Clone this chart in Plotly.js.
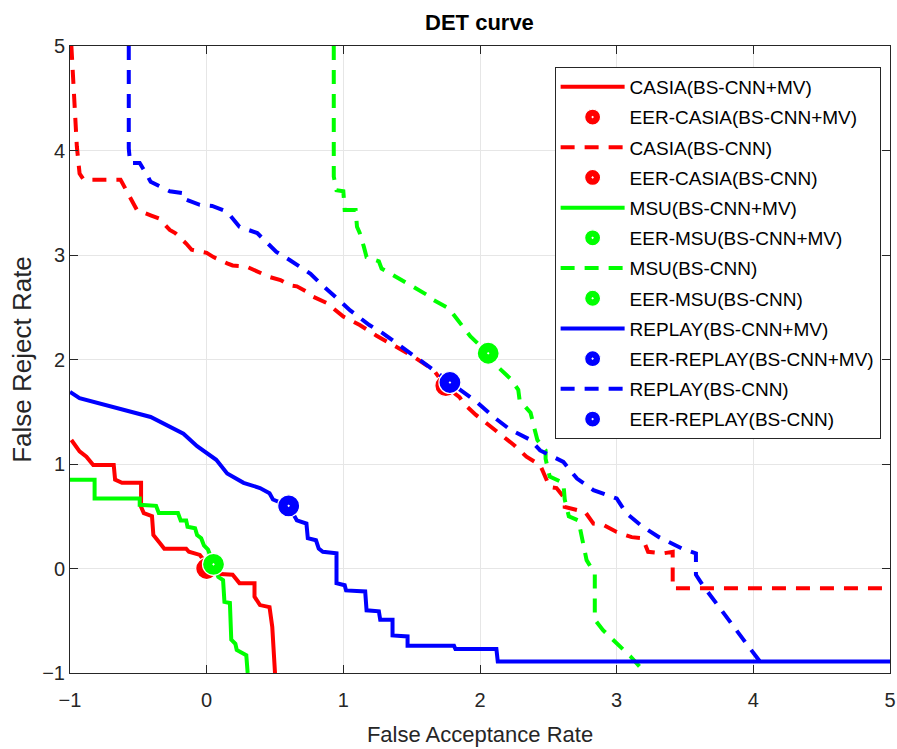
<!DOCTYPE html>
<html>
<head>
<meta charset="utf-8">
<script src="https://cdn.plot.ly/plotly-3.0.1.min.js"></script>
<style>
  html, body { margin: 0; padding: 0; background: #ffffff; }
  #chart { width: 897px; height: 749px; }
</style>
</head>
<body>
<div id="chart"></div>
<script>
// ---- Data ----
const casiaMV_x = [-0.99,-0.96,-0.93,-0.88,-0.83,-0.68,-0.67,-0.62,-0.48,-0.48,-0.46,-0.40,-0.39,-0.34,-0.31,-0.15,-0.13,-0.05,-0.02,0.0,0.07,0.19,0.24,0.35,0.35,0.39,0.46,0.48,0.49,0.50];
const casiaMV_y = [1.23,1.18,1.12,1.07,0.99,0.99,0.85,0.82,0.82,0.59,0.53,0.50,0.32,0.24,0.19,0.19,0.16,0.13,0.08,-0.01,-0.05,-0.06,-0.14,-0.14,-0.27,-0.35,-0.37,-0.56,-0.78,-1.0];

const casia_x = [-0.99,-0.95,-0.93,-0.90,-0.63,-0.61,-0.51,-0.41,-0.35,-0.27,-0.23,-0.15,-0.11,0.0,0.05,0.15,0.19,0.29,0.34,0.46,0.54,0.61,0.66,0.73,0.78,0.88,1.0,1.12,1.24,1.36,1.51,1.66,1.75,1.85,1.88,1.97,2.02,2.15,2.25,2.34,2.44,2.46,2.51,2.56,2.62,2.62,2.71,2.77,2.83,2.90,3.0,3.11,3.19,3.23,3.34,3.41,3.41,5.0];
const casia_y = [5.0,4.04,3.78,3.72,3.72,3.67,3.43,3.38,3.35,3.24,3.21,3.11,3.05,3.02,2.98,2.92,2.90,2.89,2.86,2.79,2.76,2.71,2.70,2.65,2.60,2.54,2.41,2.33,2.23,2.14,2.03,1.90,1.74,1.64,1.58,1.47,1.42,1.29,1.18,1.07,0.99,0.93,0.78,0.77,0.67,0.59,0.56,0.54,0.43,0.42,0.35,0.30,0.29,0.16,0.145,0.16,-0.19,-0.19];

const msuMV_x = [-1.0,-0.82,-0.82,-0.49,-0.49,-0.37,-0.35,-0.21,-0.19,-0.15,-0.14,-0.085,-0.07,-0.04,-0.02,0.01,0.05,0.085,0.12,0.13,0.17,0.18,0.21,0.22,0.29,0.30];
const msuMV_y = [0.85,0.85,0.67,0.67,0.61,0.60,0.53,0.53,0.46,0.46,0.40,0.385,0.32,0.29,0.22,0.18,0.04,-0.08,-0.11,-0.32,-0.33,-0.68,-0.72,-0.78,-0.83,-1.0];

const msu_x = [0.93,0.93,0.95,1.0,1.01,1.09,1.10,1.12,1.15,1.17,1.26,1.28,1.36,1.46,1.51,1.61,1.63,1.73,1.77,1.83,1.88,1.93,2.06,2.13,2.22,2.28,2.29,2.37,2.40,2.42,2.48,2.48,2.51,2.61,2.62,2.65,2.72,2.78,2.84,2.84,2.90,3.0,3.10,3.21];
const msu_y = [5.0,3.75,3.62,3.61,3.43,3.43,3.27,3.21,3.08,2.98,2.94,2.87,2.81,2.73,2.70,2.62,2.59,2.52,2.49,2.39,2.31,2.22,2.06,1.93,1.82,1.71,1.61,1.49,1.33,1.23,1.13,1.05,0.88,0.82,0.66,0.50,0.46,0.08,-0.05,-0.49,-0.59,-0.72,-0.84,-1.0];

const replayMV_x = [-1.0,-0.93,-0.41,-0.17,-0.07,0.07,0.15,0.27,0.39,0.46,0.485,0.60,0.66,0.73,0.74,0.80,0.82,0.85,0.95,0.95,1.01,1.02,1.16,1.17,1.26,1.27,1.36,1.36,1.47,1.47,1.81,1.82,2.12,2.13,5.0];
const replayMV_y = [1.69,1.63,1.45,1.29,1.17,1.04,0.91,0.82,0.77,0.72,0.66,0.60,0.46,0.43,0.29,0.27,0.19,0.16,0.145,-0.14,-0.16,-0.21,-0.22,-0.40,-0.41,-0.49,-0.49,-0.64,-0.65,-0.74,-0.74,-0.77,-0.77,-0.89,-0.89];

const replay_x = [-0.57,-0.57,-0.56,-0.49,-0.43,-0.41,-0.27,-0.16,-0.15,-0.05,0.04,0.12,0.17,0.24,0.37,0.41,0.48,0.51,0.61,0.71,0.76,0.83,0.87,0.95,1.05,1.19,1.29,1.41,1.54,1.66,1.77,1.85,1.97,2.10,2.22,2.37,2.44,2.61,2.71,2.83,3.0,3.07,3.19,3.31,3.48,3.58,3.58,3.63,3.78,3.95,4.06];
const replay_y = [5.0,4.02,3.88,3.88,3.75,3.70,3.61,3.59,3.53,3.48,3.47,3.43,3.38,3.27,3.21,3.16,3.06,3.03,2.95,2.87,2.82,2.73,2.68,2.59,2.47,2.33,2.25,2.14,2.01,1.90,1.79,1.71,1.60,1.45,1.33,1.23,1.13,1.02,0.86,0.75,0.67,0.53,0.40,0.30,0.19,0.145,-0.06,-0.16,-0.43,-0.72,-0.91];

// Equal error rate points
const eer_names = ["EER-CASIA(BS-CNN+MV)","EER-CASIA(BS-CNN)","EER-MSU(BS-CNN+MV)","EER-MSU(BS-CNN)","EER-REPLAY(BS-CNN+MV)","EER-REPLAY(BS-CNN)"];
const eer_x = [0.0, 1.75, 0.05, 2.06, 0.60, 1.78];
const eer_y = [0.0, 1.75, 0.04, 2.06, 0.60, 1.78];

const curve_names = ["CASIA(BS-CNN+MV)","CASIA(BS-CNN)","MSU(BS-CNN+MV)","MSU(BS-CNN)","REPLAY(BS-CNN+MV)","REPLAY(BS-CNN)"];

// ---- Styles ----
const RED = "#ff0000", GREEN = "#00ff00", BLUE = "#0000ff";
const DASH = "14px,10px";
function curve(x, y, name, color, dashed, g) {
  return {x: x, y: y, name: name, type: "scatter", mode: "lines",
          legendgroup: g,
          line: {color: color, width: 4, dash: dashed ? DASH : "solid", shape: "linear"}};
}
function eer(i, color, g) {
  return {x: [eer_x[i]], y: [eer_y[i]], name: eer_names[i], type: "scatter", mode: "markers",
          legendgroup: g,
          marker: {symbol: "circle-dot", size: 22, color: color, line: {color: "#ffffff", width: 1.2}}};
}

const data = [
  curve(casiaMV_x, casiaMV_y, curve_names[0], RED, false, "g01"),
  eer(0, RED, "g02"),
  curve(casia_x, casia_y, curve_names[1], RED, true, "g03"),
  eer(1, RED, "g04"),
  curve(msuMV_x, msuMV_y, curve_names[2], GREEN, false, "g05"),
  eer(2, GREEN, "g06"),
  curve(msu_x, msu_y, curve_names[3], GREEN, true, "g07"),
  eer(3, GREEN, "g08"),
  curve(replayMV_x, replayMV_y, curve_names[4], BLUE, false, "g09"),
  eer(4, BLUE, "g10"),
  curve(replay_x, replay_y, curve_names[5], BLUE, true, "g11"),
  eer(5, BLUE, "g12")
];

const FONT = "Liberation Sans, Arial, Helvetica, sans-serif";
const axisCommon = {
  range: [-1, 5], dtick: 1, tick0: -1, autorange: false,
  showgrid: true, gridcolor: "#e6e6e6", gridwidth: 1,
  zeroline: false,
  showline: true, linecolor: "#262626", linewidth: 1, mirror: "ticks",
  ticks: "inside", ticklen: 8, tickwidth: 1, tickcolor: "#262626",
  tickfont: {family: FONT, size: 20, color: "#262626"}
};

const layout = {
  width: 897, height: 749,
  margin: {l: 70, r: 7, t: 46, b: 76, pad: 0},
  paper_bgcolor: "#ffffff", plot_bgcolor: "#ffffff",
  title: {text: "<b>DET curve</b>", font: {family: FONT, size: 22, color: "#000000"},
          x: 0.5345, xanchor: "center", y: 0.970, yanchor: "middle"},
  xaxis: Object.assign({}, axisCommon, {
    ticklabelstandoff: 9,
    title: {text: "False Acceptance Rate", font: {family: FONT, size: 22, color: "#262626"}, standoff: 16}
  }),
  yaxis: Object.assign({}, axisCommon, {
    title: {text: "False Reject Rate", font: {family: FONT, size: 26, color: "#262626"}, standoff: 3}
  }),
  showlegend: true,
  legend: {
    x: 0.591, xanchor: "left", y: 0.9665, yanchor: "top",
    bgcolor: "#ffffff", bordercolor: "#262626", borderwidth: 1,
    font: {family: FONT, size: 19, color: "#000000"},
    itemwidth: 64, tracegroupgap: 2.5, traceorder: "grouped"
  }
};

Plotly.newPlot("chart", data, layout, {displayModeBar: false, staticPlot: true});
</script>
</body>
</html>
